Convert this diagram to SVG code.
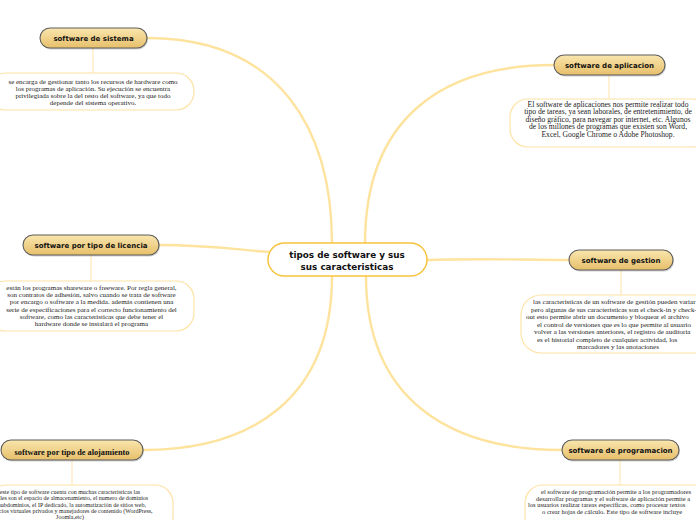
<svg xmlns="http://www.w3.org/2000/svg" width="696" height="520" viewBox="0 0 696 520">
<defs>
<linearGradient id="pg" x1="0" y1="0" x2="0" y2="1">
<stop offset="0" stop-color="#f9e6ae"/>
<stop offset="1" stop-color="#e7bf6a"/>
</linearGradient>
</defs>
<style>
.pill{fill:url(#pg);stroke:#5c5c5c;stroke-width:1.1}
.shd{fill:#000;opacity:0.18}
.lab{font-family:"DejaVu Sans",Verdana,sans-serif;font-weight:bold;font-size:7px;fill:#111;text-anchor:middle}
.labs{font-family:"Liberation Serif","Times New Roman",serif;font-weight:bold;font-size:8.3px;fill:#111;text-anchor:middle}
.box{fill:#fff;stroke:#fde3a6;stroke-width:1.2}
.txt{font-family:"Liberation Serif","Times New Roman",serif;font-size:7px;fill:#222}
.big{font-size:7.6px}
.sm{font-size:6px}
.pr{font-size:6.5px}
.mid{text-anchor:middle}
.main{fill:none;stroke:#fde39e;stroke-width:2.4;stroke-linecap:round}
.sub{fill:none;stroke:#fde8b8;stroke-width:1.2}
.center{fill:#fff;stroke:#f7c33e;stroke-width:1.5}
.ctext{font-family:"DejaVu Sans",Verdana,sans-serif;font-weight:bold;font-size:8.8px;fill:#111;text-anchor:middle}
</style>
<rect width="696" height="520" fill="#fff"/>
<g id="connectors">
<path class="main" d="M147,38 C280,38 332,130 332,244"/>
<path class="main" d="M365,244 C365,120 440,65 554,65"/>
<path class="main" d="M159,245 C210,245 240,250 270,252"/>
<path class="main" d="M427,260 C480,258 520,260 569,260"/>
<path class="main" d="M332,276 C332,400 250,450 143,450"/>
<path class="main" d="M366,276 C366,400 450,450 562,450"/>
<path class="sub" d="M93,48 V73"/>
<path class="sub" d="M609,75 V99"/>
<path class="sub" d="M91,255 V281"/>
<path class="sub" d="M621,270 V295"/>
<path class="sub" d="M72,460 V485"/>
<path class="sub" d="M620,460 V485"/>
</g>
<g id="center">
<rect class="center" x="268" y="243" width="159" height="33" rx="16.5"/>
<text class="ctext" x="347" y="258">tipos de software y sus</text>
<text class="ctext" x="347" y="270">sus caracteristicas</text>
</g>
<g id="n-sistema">
<rect class="shd" x="41" y="29.5" width="107" height="20" rx="10"/>
<rect class="pill" x="40" y="28" width="107" height="20" rx="10"/>
<text class="lab" x="93.5" y="40.5">software de sistema</text>
</g>
<g id="t-sistema">
<rect class="box" x="-12" y="73" width="206" height="37" rx="18"/>
<text class="txt mid" x="93" y="84">se encarga de gestionar tanto los recursos de hardware como</text>
<text class="txt mid" x="93" y="91">los programas de aplicación. Su ejecución se encuentra</text>
<text class="txt mid" x="93" y="98">privilegiada sobre la del resto del software, ya que todo</text>
<text class="txt mid" x="93" y="105">depende del sistema operativo.</text>
</g>
<g id="n-aplicacion">
<rect class="shd" x="555" y="56.5" width="111" height="20" rx="10"/>
<rect class="pill" x="554" y="55" width="111" height="20" rx="10"/>
<text class="lab" x="609.5" y="67.5">software de aplicacion</text>
</g>
<g id="t-aplicacion">
<rect class="box" x="510" y="99" width="200" height="48" rx="18"/>
<text class="txt big mid" x="608" y="106.5">El software de aplicaciones nos permite realizar todo</text>
<text class="txt big mid" x="608" y="114">tipo de tareas, ya sean laborales, de entretenimiento, de</text>
<text class="txt big mid" x="608" y="121.5">diseño gráfico, para navegar por internet, etc. Algunos</text>
<text class="txt big mid" x="608" y="129">de los millones de programas que existen son Word,</text>
<text class="txt big mid" x="608" y="136.5">Excel, Google Chrome o Adobe Photoshop.</text>
</g>
<g id="n-licencia">
<rect class="shd" x="24" y="236.5" width="136" height="20" rx="10"/>
<rect class="pill" x="23" y="235" width="136" height="20" rx="10"/>
<text class="lab" x="91" y="247.5">software por tipo de licencia</text>
</g>
<g id="t-licencia">
<rect class="box" x="-12" y="281" width="206" height="50" rx="18"/>
<text class="txt mid" x="91.5" y="289.5">están los programas shareware o freeware. Por regla general,</text>
<text class="txt mid" x="91.5" y="297">son contratos de adhesión, salvo cuando se trata de software</text>
<text class="txt mid" x="91.5" y="304.3">por encargo o software a la medida. además  contienen una</text>
<text class="txt mid" x="91.5" y="311.6">serie de especificaciones para el correcto funcionamiento del</text>
<text class="txt mid" x="91.5" y="318.9">software, como las caracteristicas que debe tener el</text>
<text class="txt mid" x="91.5" y="326.2">hardware donde se instalará el programa</text>
</g>
<g id="n-gestion">
<rect class="shd" x="570" y="251.5" width="104" height="20" rx="10"/>
<rect class="pill" x="569" y="250" width="104" height="20" rx="10"/>
<text class="lab" x="621" y="262.5">software de gestion</text>
</g>
<g id="t-gestion">
<rect class="box" x="521" y="295" width="200" height="58" rx="20"/>
<text class="txt" x="533" y="304">las caracteristicas de un software de gestión pueden variar</text>
<text class="txt" x="531" y="311.6">pero algunas de sus caracteristicas son el check-in y check-</text>
<text class="txt" x="526" y="319">out esto permite abrir un documento y bloquear el archivo</text>
<text class="txt" x="537" y="326.6">el control de versiones que es lo que permite al usuario</text>
<text class="txt" x="534" y="334">volver a las versiones anteriores, el registro de auditoria</text>
<text class="txt" x="537" y="341.6">es el historial completo de cualquier actividad, los</text>
<text class="txt mid" x="618" y="349">marcadores y las anotaciones</text>
</g>
<g id="n-alojamiento">
<rect class="shd" x="2" y="441.5" width="142" height="20" rx="10"/>
<rect class="pill" x="1" y="440" width="142" height="20" rx="10"/>
<text class="labs" x="72" y="455">software por tipo de alojamiento</text>
</g>
<g id="t-alojamiento">
<rect class="box" x="-12" y="485" width="185" height="50" rx="18"/>
<text class="txt sm mid" x="70" y="493.7">este tipo de software cuenta con muchas caracteristicas las</text>
<text class="txt sm mid" x="70" y="500">cuales son el espacio de almacenamiento, el numero de dominios</text>
<text class="txt sm mid" x="70" y="507">y subdominios, el IP dedicado, la automatización de sitios web,</text>
<text class="txt sm mid" x="70" y="513.3">servicios virtuales privados y manejadores de contenido (WordPress,</text>
<text class="txt sm mid" x="70" y="518.7">Joomla,etc)</text>
</g>
<g id="n-programacion">
<rect class="shd" x="563" y="441.5" width="117" height="20" rx="10"/>
<rect class="pill" x="562" y="440" width="117" height="20" rx="10"/>
<text class="lab" x="620.5" y="452.5">software de programacion</text>
</g>
<g id="t-programacion">
<rect class="box" x="525" y="485" width="200" height="50" rx="18"/>
<text class="txt pr" x="541" y="494">el software de programación permite a los programadores</text>
<text class="txt pr" x="536" y="500.6">desarrollar programas y el software de aplicación permite a</text>
<text class="txt pr" x="528" y="507.3">los usuarios realizar tareas específicas, como procesar textos</text>
<text class="txt pr" x="542" y="514">o crear hojas de cálculo. Este tipo de software incluye</text>
</g>
</svg>
